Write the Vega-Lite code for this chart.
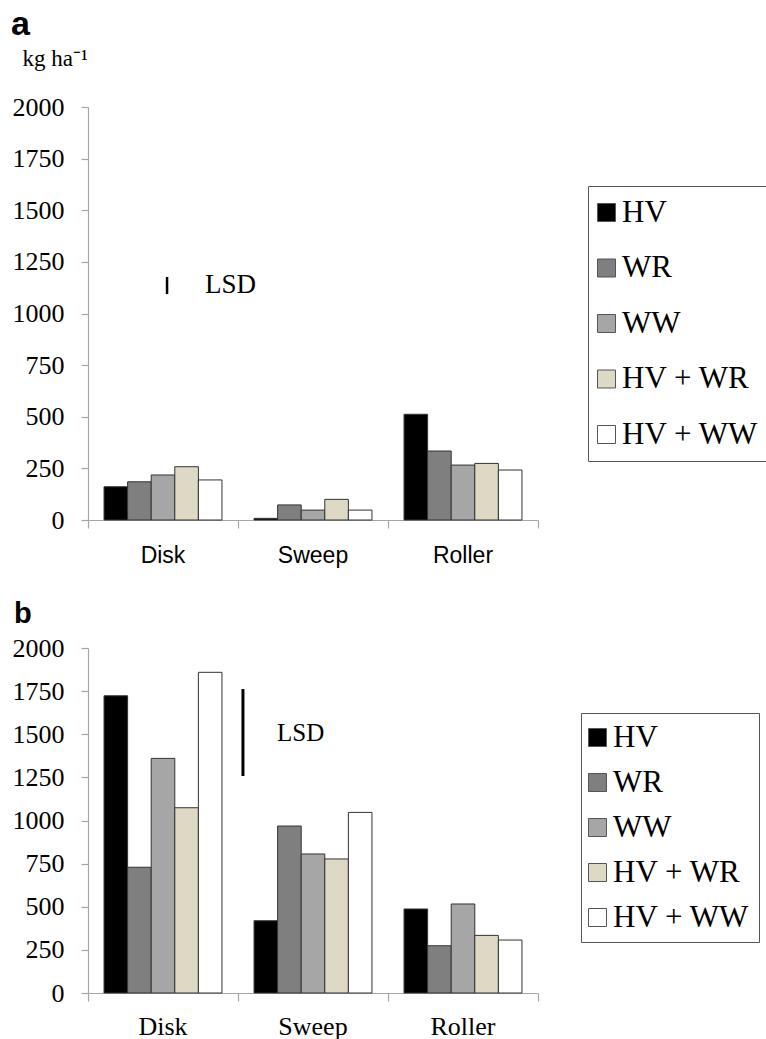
{
  "$schema": "https://vega.github.io/schema/vega-lite/v6.json",
  "background": "white",
  "padding": {"left": 11, "top": 8, "right": 0, "bottom": 0},
  "config": {
    "view": {"stroke": null},
    "font": "Liberation Serif",
    "axis": {"grid": false, "domainColor": "#a6a6a6", "tickColor": "#a6a6a6", "domainWidth": 1.2, "tickWidth": 1.2, "labelColor": "black", "titleColor": "black"}
  },
  "resolve": {"scale": {"color": "independent", "x": "independent", "y": "independent"}, "legend": {"color": "independent"}},
  "spacing": 33,
  "datasets": {
    "a": [
      {"method": "Disk", "crop": "HV", "value": 161},
      {"method": "Disk", "crop": "WR", "value": 185},
      {"method": "Disk", "crop": "WW", "value": 218},
      {"method": "Disk", "crop": "HV + WR", "value": 258},
      {"method": "Disk", "crop": "HV + WW", "value": 194},
      {"method": "Sweep", "crop": "HV", "value": 8},
      {"method": "Sweep", "crop": "WR", "value": 73},
      {"method": "Sweep", "crop": "WW", "value": 48},
      {"method": "Sweep", "crop": "HV + WR", "value": 100},
      {"method": "Sweep", "crop": "HV + WW", "value": 48},
      {"method": "Roller", "crop": "HV", "value": 512},
      {"method": "Roller", "crop": "WR", "value": 334},
      {"method": "Roller", "crop": "WW", "value": 266},
      {"method": "Roller", "crop": "HV + WR", "value": 274},
      {"method": "Roller", "crop": "HV + WW", "value": 242}
    ],
    "b": [
      {"method": "Disk", "crop": "HV", "value": 1723},
      {"method": "Disk", "crop": "WR", "value": 729},
      {"method": "Disk", "crop": "WW", "value": 1360},
      {"method": "Disk", "crop": "HV + WR", "value": 1074},
      {"method": "Disk", "crop": "HV + WW", "value": 1859},
      {"method": "Sweep", "crop": "HV", "value": 419},
      {"method": "Sweep", "crop": "WR", "value": 968},
      {"method": "Sweep", "crop": "WW", "value": 806},
      {"method": "Sweep", "crop": "HV + WR", "value": 777},
      {"method": "Sweep", "crop": "HV + WW", "value": 1047},
      {"method": "Roller", "crop": "HV", "value": 487},
      {"method": "Roller", "crop": "WR", "value": 274},
      {"method": "Roller", "crop": "WW", "value": 516},
      {"method": "Roller", "crop": "HV + WR", "value": 334},
      {"method": "Roller", "crop": "HV + WW", "value": 307}
    ],
    "lsd_a": [{"method": "Disk", "low": 1094, "high": 1177, "label": "LSD", "label_y": 1138}],
    "lsd_b": [{"method": "Sweep", "low": 1258, "high": 1762, "label": "LSD", "label_y": 1510}]
  },
  "vconcat": [
    {
      "width": 450,
      "height": 413,
      "title": {"text": "a", "anchor": "start", "frame": "group", "font": "Liberation Sans", "fontWeight": "bold", "fontSize": 34, "color": "black", "dx": -77, "offset": 5},
      "encoding": {
        "x": {"field": "method", "type": "nominal", "scale": {"domain": ["Disk", "Sweep", "Roller"], "paddingInner": 0, "paddingOuter": 0},
          "axis": {"title": null, "labelAngle": 0, "bandPosition": 1, "tickExtra": true, "tickSize": 8, "labelPadding": 16, "labelFont": "Liberation Sans", "labelFontSize": 23}}
      },
      "layer": [
        {
          "data": {"name": "a"},
          "mark": {"type": "bar", "stroke": "#333333", "strokeWidth": 1},
          "encoding": {
            "xOffset": {"field": "crop", "type": "nominal", "scale": {"domain": ["HV", "WR", "WW", "HV + WR", "HV + WW"], "paddingInner": 0, "paddingOuter": 0.68}},
            "y": {"field": "value", "type": "quantitative", "scale": {"domain": [0, 2000], "nice": false},
              "axis": {"title": "kg ha⁻¹", "titleAngle": 0, "titleAlign": "left", "titleBaseline": "middle", "titleX": -66, "titleY": -49, "titleFont": "Liberation Serif", "titleFontSize": 23, "titleFontWeight": "normal",
                "values": [0, 250, 500, 750, 1000, 1250, 1500, 1750, 2000], "format": "d", "tickSize": 7, "labelPadding": 17, "labelFont": "Liberation Serif", "labelFontSize": 26}},
            "color": {"field": "crop", "type": "nominal",
              "scale": {"domain": ["HV", "WR", "WW", "HV + WR", "HV + WW"], "range": ["#000000", "#7f7f7f", "#a6a6a6", "#ddd9c4", "#ffffff"]},
              "legend": {"orient": "none", "legendX": 500, "legendY": 79, "title": null, "labelFont": "Liberation Serif", "labelFontSize": 31, "labelColor": "black",
                "symbolType": "square", "symbolSize": 324, "symbolStrokeColor": "#555555", "symbolStrokeWidth": 1, "symbolOpacity": 1, "symbolOffset": -8,
                "rowPadding": 23.5, "padding": 11, "labelOffset": 0, "labelLimit": 300, "strokeColor": "#555555", "fillColor": "white"}}
          }
        },
        {
          "data": {"name": "lsd_a"},
          "mark": {"type": "rule", "strokeWidth": 2.5, "color": "black"},
          "encoding": {
            "x": {"field": "method", "type": "nominal", "bandPosition": 0.527},
            "y": {"field": "low", "type": "quantitative"},
            "y2": {"field": "high"}
          }
        },
        {
          "data": {"name": "lsd_a"},
          "mark": {"type": "text", "align": "left", "baseline": "middle", "fontSize": 27, "font": "Liberation Serif", "color": "black"},
          "encoding": {
            "x": {"field": "method", "type": "nominal", "bandPosition": 0.78},
            "y": {"field": "label_y", "type": "quantitative"},
            "text": {"field": "label"}
          }
        }
      ]
    },
    {
      "width": 450,
      "height": 345,
      "title": {"text": "b", "anchor": "start", "frame": "group", "font": "Liberation Sans", "fontWeight": "bold", "fontSize": 29, "color": "black", "dx": -74, "offset": 6},
      "encoding": {
        "x": {"field": "method", "type": "nominal", "scale": {"domain": ["Disk", "Sweep", "Roller"], "paddingInner": 0, "paddingOuter": 0},
          "axis": {"title": null, "labelAngle": 0, "bandPosition": 1, "tickExtra": true, "tickSize": 8, "labelPadding": 12, "labelFont": "Liberation Serif", "labelFontSize": 26}}
      },
      "layer": [
        {
          "data": {"name": "b"},
          "mark": {"type": "bar", "stroke": "#333333", "strokeWidth": 1},
          "encoding": {
            "xOffset": {"field": "crop", "type": "nominal", "scale": {"domain": ["HV", "WR", "WW", "HV + WR", "HV + WW"], "paddingInner": 0, "paddingOuter": 0.68}},
            "y": {"field": "value", "type": "quantitative", "scale": {"domain": [0, 2000], "nice": false},
              "axis": {"title": null, "values": [0, 250, 500, 750, 1000, 1250, 1500, 1750, 2000], "format": "d", "tickSize": 7, "labelPadding": 17, "labelFont": "Liberation Serif", "labelFontSize": 26}},
            "color": {"field": "crop", "type": "nominal",
              "scale": {"domain": ["HV", "WR", "WW", "HV + WR", "HV + WW"], "range": ["#000000", "#7f7f7f", "#a6a6a6", "#ddd9c4", "#ffffff"]},
              "legend": {"orient": "none", "legendX": 493, "legendY": 65, "title": null, "labelFont": "Liberation Serif", "labelFontSize": 31, "labelColor": "black",
                "symbolType": "square", "symbolSize": 324, "symbolStrokeColor": "#555555", "symbolStrokeWidth": 1, "symbolOpacity": 1, "symbolOffset": -8,
                "rowPadding": 13, "padding": 9, "labelOffset": 0, "labelLimit": 300, "strokeColor": "#555555", "fillColor": "white"}}
          }
        },
        {
          "data": {"name": "lsd_b"},
          "mark": {"type": "rule", "strokeWidth": 3, "color": "black"},
          "encoding": {
            "x": {"field": "method", "type": "nominal", "bandPosition": 0.033},
            "y": {"field": "low", "type": "quantitative"},
            "y2": {"field": "high"}
          }
        },
        {
          "data": {"name": "lsd_b"},
          "mark": {"type": "text", "align": "left", "baseline": "middle", "fontSize": 25, "font": "Liberation Serif", "color": "black"},
          "encoding": {
            "x": {"field": "method", "type": "nominal", "bandPosition": 0.26},
            "y": {"field": "label_y", "type": "quantitative"},
            "text": {"field": "label"}
          }
        }
      ]
    }
  ]
}
